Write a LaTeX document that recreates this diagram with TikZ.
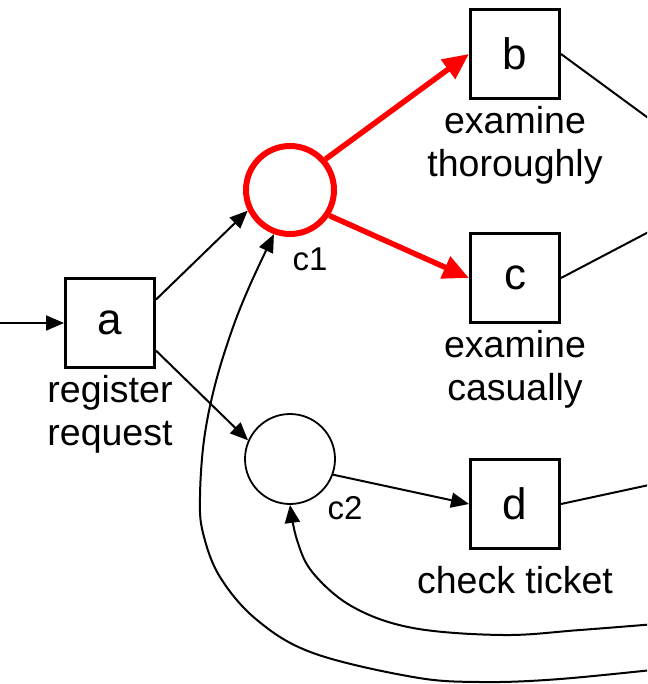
\documentclass[tikz,border=0pt]{standalone}
\usepackage{fontspec}
\setmainfont{Liberation Sans}
\usetikzlibrary{arrows.meta}
\begin{document}
\begin{tikzpicture}[x=1pt,y=-1pt,
  trans/.style={draw=black,line width=3pt,minimum size=89pt,inner sep=0pt,font=\fontsize{44}{50}\selectfont},
  place/.style={draw=black,circle,line width=1.8pt,minimum size=90pt,inner sep=0pt},
  hot/.style={draw=red,line width=6pt},
  lbl/.style={align=center,font=\fontsize{37.5}{43}\selectfont,inner sep=0pt},
  plbl/.style={font=\fontsize{33}{38}\selectfont,inner sep=0pt},
  arc/.style={line width=2pt,-{Triangle[length=18pt,width=15pt]}},
  hotarc/.style={draw=red,line width=5.5pt,-{Triangle[length=26pt,width=23pt]}},
  edge/.style={line width=2pt}]
\path[use as bounding box] (0,0) rectangle (647,684);
\clip (0,0) rectangle (647,684);
\node[trans] (a) at (110,323) {a};
\node[trans] (b) at (515,54) {b};
\node[trans] (c) at (515,278) {c};
\node[trans] (d) at (515,504) {d};
\node[place,hot,minimum size=88pt] (c1) at (290,190) {};
\node[place] (c2) at (290,459) {};
\node[lbl] (la) at (110,414) {register\\request};
\node[lbl] (lb) at (515,145) {examine\\thoroughly};
\node[lbl] (lc) at (515,369) {examine\\casually};
\node[lbl] (ld) at (515,580) {check ticket};
\node[plbl] (lc1) at (310,259) {c1};
\node[plbl] (lc2) at (345,508) {c2};
\coordinate (in) at (-5,323);
\coordinate (ob) at (700,156);
\coordinate (oc) at (700,205);
\coordinate (od) at (700,474);
\coordinate (r1) at (680,667);
\coordinate (r2) at (680,622);
\draw[arc] (in) -- (a.west);
\draw[arc] (a.27) -- (c1.206);
\draw[arc] (a.-31) -- (c2.156);
\draw[hotarc] (c1.41) -- (b.west);
\draw[hotarc] (c1.-33) -- (c.west);
\draw[arc] (c2.-20) -- (d.west);
\draw[edge] (b.east) -- (ob);
\draw[edge] (c.east) -- (oc);
\draw[edge] (d.east) -- (od);
\draw[arc] plot[smooth,tension=0.6] coordinates {(r1) (560,679) (480,682) (413,677) (313,653) (257,620) (220,577) (203,533) (200,497) (204,440) (215,385) (232,330) (250,285) (c1.250)};
\draw[arc] plot[smooth,tension=0.6] coordinates {(r2) (580,630) (503,635) (413,628) (353,607) (313,573) (297,540) (c2.south)};
\end{tikzpicture}
\end{document}
